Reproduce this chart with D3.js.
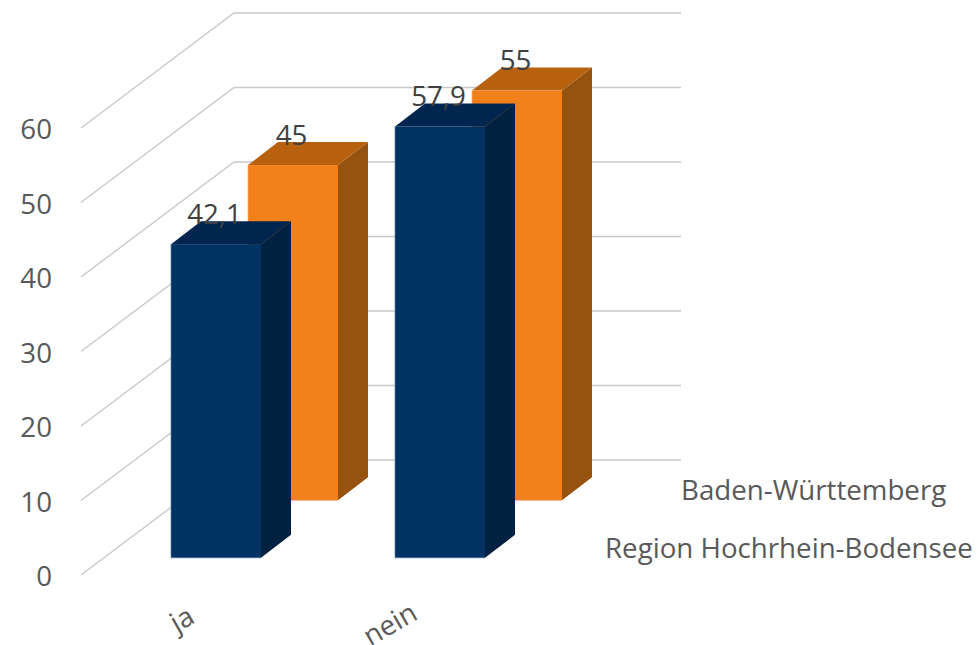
<!DOCTYPE html>
<html><head><meta charset="utf-8">
<script src="https://cdn.jsdelivr.net/npm/d3@7"></script>
<style>html,body{margin:0;padding:0;background:#fff;overflow:hidden}svg{display:block}text{font-family:"Open Sans",sans-serif}</style>
</head><body><svg id="c" width="977" height="645"></svg>
<script>
const categories = ["ja", "nein"];
const seriesNames = ["Baden-Württemberg", "Region Hochrhein-Bodensee"];
const badenWuerttemberg = [45, 55];
const regionHochrhein = [42.1, 57.9];
const labelsBW = ["45", "55"];
const labelsRegion = ["42,1", "57,9"];
const ticks = [0, 10, 20, 30, 40, 50, 60];

const svg = d3.select("#c");
const fs = 27.7;
const y = d3.scaleLinear().domain([0, 60]).range([0, 447]);     // height above floor
const x = d3.scaleBand().domain(categories).range([171, 619]).paddingInner(0).align(0); // step 224
const barW = 90;
const barDepth = [30, -23];
const floorY = [575, 460];                                      // front / back of wall
const series = [
  {name: seriesNames[0], values: badenWuerttemberg, labels: labelsBW, dx: 77, base: 500.3,
   front: "#f2811b", top: "#b86210", side: "#96520f", edge: "#f6a765"},
  {name: seriesNames[1], values: regionHochrhein, labels: labelsRegion, dx: 0, base: 557.8,
   front: "#003263", top: "#00264f", side: "#00213f", edge: "#5f7f9f"}
];

// grid
const grid = svg.append("g").attr("fill", "none").attr("stroke", "#c9c9c9").attr("stroke-width", 1.4);
grid.selectAll("path").data(ticks).join("path")
  .attr("d", t => d3.line()([[81, floorY[0] - y(t)], [234, floorY[1] - y(t)], [681, floorY[1] - y(t)]]));

// tick labels
svg.append("g").selectAll("text").data(ticks).join("text")
  .attr("x", 52).attr("y", t => floorY[0] - y(t) + 11)
  .attr("text-anchor", "end").attr("font-size", fs).attr("fill", "#595959").text(t => t);

// bars, back series first
series.forEach(s => {
  const g = svg.append("g");
  categories.forEach((c, i) => {
    const x0 = x(c) + s.dx, x1 = x0 + barW, b = s.base, t = b - y(s.values[i]);
    const [ddx, ddy] = barDepth;
    g.append("path").attr("fill", s.side)
      .attr("d", d3.line()([[x1, t], [x1 + ddx, t + ddy], [x1 + ddx, b + ddy], [x1, b]]) + "Z");
    g.append("path").attr("fill", s.top)
      .attr("d", d3.line()([[x0, t], [x0 + ddx, t + ddy], [x1 + ddx, t + ddy], [x1, t]]) + "Z");
    g.append("rect").attr("x", x0).attr("y", t).attr("width", barW).attr("height", b - t).attr("fill", s.front);
    g.append("path").attr("fill", "none").attr("stroke", s.edge).attr("stroke-width", 0.7)
      .attr("d", d3.line()([[x0, t], [x0, b], [x1, b]]));
  });
});

// data labels
series.forEach(s => {
  categories.forEach((c, i) => {
    svg.append("text").attr("x", x(c) + s.dx + 43.5).attr("y", s.base - y(s.values[i]) - 20.5)
      .attr("text-anchor", "middle").attr("font-size", fs).attr("fill", "#404040").text(s.labels[i]);
  });
});

// category labels
svg.append("g").selectAll("text").data(categories).join("text")
  .attr("transform", (c, i) => `translate(${x(c) + (i ? -4 : 12)},${i ? 626 : 621}) rotate(-30)`)
  .attr("text-anchor", "middle").attr("dominant-baseline", "middle")
  .attr("font-size", fs).attr("fill", "#595959").text(c => c);

// series labels
svg.append("text").attr("x", 681).attr("y", 500).attr("font-size", fs).attr("fill", "#595959").text(seriesNames[0]);
svg.append("text").attr("x", 605).attr("y", 558).attr("font-size", fs).attr("fill", "#595959").text(seriesNames[1]);
</script></body></html>
